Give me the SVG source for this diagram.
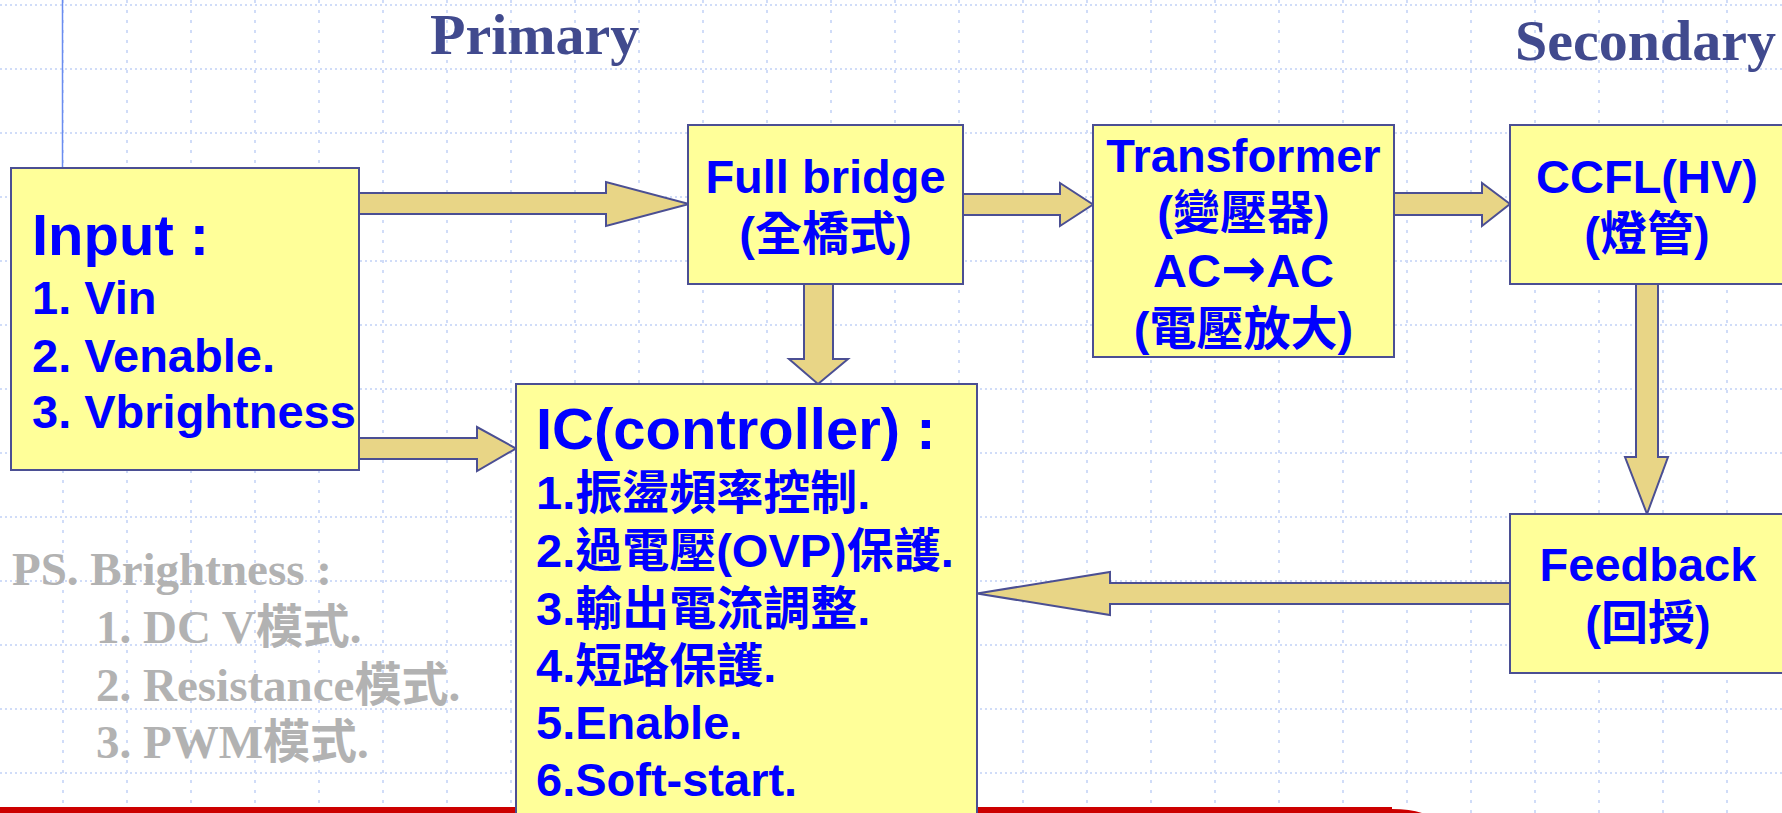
<svg xmlns="http://www.w3.org/2000/svg" width="1782" height="813" viewBox="0 0 1782 813">
<style>
.gh{fill:none;stroke:#D0DCF8;stroke-width:2;stroke-dasharray:2 3}
.gv{fill:none;stroke:#D0DCF8;stroke-width:2;stroke-dasharray:3 7}
.box{fill:#FFFF99;stroke:#4B4F93;stroke-width:2}
.arr{fill:#E8D586;stroke:#4B4F93;stroke-width:2;stroke-linejoin:miter}
.t{font-family:'Liberation Sans','Noto Sans CJK TC',sans-serif;font-weight:bold;fill:#0000FF;font-size:47px}
.big{font-size:58px}
.c{text-anchor:middle}
.sym{font-family:'DejaVu Sans',sans-serif;font-size:54px}
.hd{font-family:'Liberation Serif','Noto Serif CJK TC',serif;font-weight:bold;fill:#414A8E;font-size:58px}
.ps{font-family:'Liberation Serif','Noto Sans CJK TC',serif;font-weight:bold;fill:#B2B2B2;font-size:47px}
</style>
<rect width="1782" height="813" fill="#FFFFFF"/>
<g id="grid">
<path class="gh" d="M0 5H1782M0 69H1782M0 133H1782M0 197H1782M0 261H1782M0 325H1782M0 389H1782M0 453H1782M0 517H1782M0 581H1782M0 645H1782M0 709H1782M0 773H1782"/>
<path class="gv" d="M63 0V813M127 0V813M191 0V813M255 0V813M319 0V813M383 0V813M447 0V813M511 0V813M575 0V813M639 0V813M703 0V813M767 0V813M831 0V813M895 0V813M959 0V813M1023 0V813M1087 0V813M1151 0V813M1215 0V813M1279 0V813M1343 0V813M1407 0V813M1471 0V813M1535 0V813M1599 0V813M1663 0V813M1727 0V813"/>
<line x1="62.5" y1="0" x2="62.5" y2="168" stroke="#6A8CF0" stroke-width="1.5"/>
</g>
<path id="redbar" d="M0 807H1392V809Q1410 809 1422 813H0Z" fill="#CC0000"/>
<g id="labels">
<text class="hd" x="430" y="54">Primary</text>
<text class="hd" x="1515" y="60">Secondary</text>
<text class="ps" x="12" y="585">PS. Brightness :</text>
<text class="ps" x="96" y="643">1. DC V模式.</text>
<text class="ps" x="96" y="701">2. Resistance模式.</text>
<text class="ps" x="96" y="758">3. PWM模式.</text>
</g>
<g id="connectors">
<polygon class="arr" points="359,193 606,193 606,182 689,204 606,226 606,214 359,214"/>
<polygon class="arr" points="963,194 1060,194 1060,183 1093,204.5 1060,226 1060,215 963,215"/>
<polygon class="arr" points="1394,193 1482,193 1482,183 1510,204 1482,226 1482,215 1394,215"/>
<polygon class="arr" points="804,284 833,284 833,359 848,359 818,384 789,359 804,359"/>
<polygon class="arr" points="359,438 477,438 477,427 516,448.5 477,471 477,459 359,459"/>
<polygon class="arr" points="1636,284 1658,284 1658,457 1668,457 1647,514 1625,457 1636,457"/>
<polygon class="arr" points="1510,583 1110,583 1110,572 977,593.5 1110,615 1110,604 1510,604"/>
</g>
<g id="node-input">
<rect class="box" x="11" y="168" width="348" height="302"/>
<text class="t big" x="32" y="255">Input :</text>
<text class="t" x="32" y="314">1. Vin</text>
<text class="t" x="32" y="372">2. Venable.</text>
<text class="t" x="32" y="428">3. Vbrightness</text>
</g>
<g id="node-fullbridge">
<rect class="box" x="688" y="125" width="275" height="159"/>
<text class="t c" x="825.5" y="193">Full bridge</text>
<text class="t c" x="825.5" y="250">(全橋式)</text>
</g>
<g id="node-transformer">
<rect class="box" x="1093" y="125" width="301" height="232"/>
<text class="t c" x="1243.5" y="172">Transformer</text>
<text class="t c" x="1243.5" y="229">(變壓器)</text>
<text class="t c" x="1243.5" y="287">AC<tspan class="sym">→</tspan>AC</text>
<text class="t c" x="1243.5" y="345">(電壓放大)</text>
</g>
<g id="node-ccfl">
<rect class="box" x="1510" y="125" width="280" height="159"/>
<text class="t c" x="1647" y="193">CCFL(HV)</text>
<text class="t c" x="1647" y="250">(燈管)</text>
</g>
<g id="node-feedback">
<rect class="box" x="1510" y="514" width="280" height="159"/>
<text class="t c" x="1648" y="581">Feedback</text>
<text class="t c" x="1648" y="639">(回授)</text>
</g>
<g id="node-ic">
<rect class="box" x="516" y="384" width="461" height="440"/>
<text class="t big" x="536" y="449">IC(controller) :</text>
<text class="t" x="536" y="509">1.振盪頻率控制.</text>
<text class="t" x="536" y="567">2.過電壓(OVP)保護.</text>
<text class="t" x="536" y="625">3.輸出電流調整.</text>
<text class="t" x="536" y="682">4.短路保護.</text>
<text class="t" x="536" y="739">5.Enable.</text>
<text class="t" x="536" y="796">6.Soft-start.</text>
</g>
</svg>
